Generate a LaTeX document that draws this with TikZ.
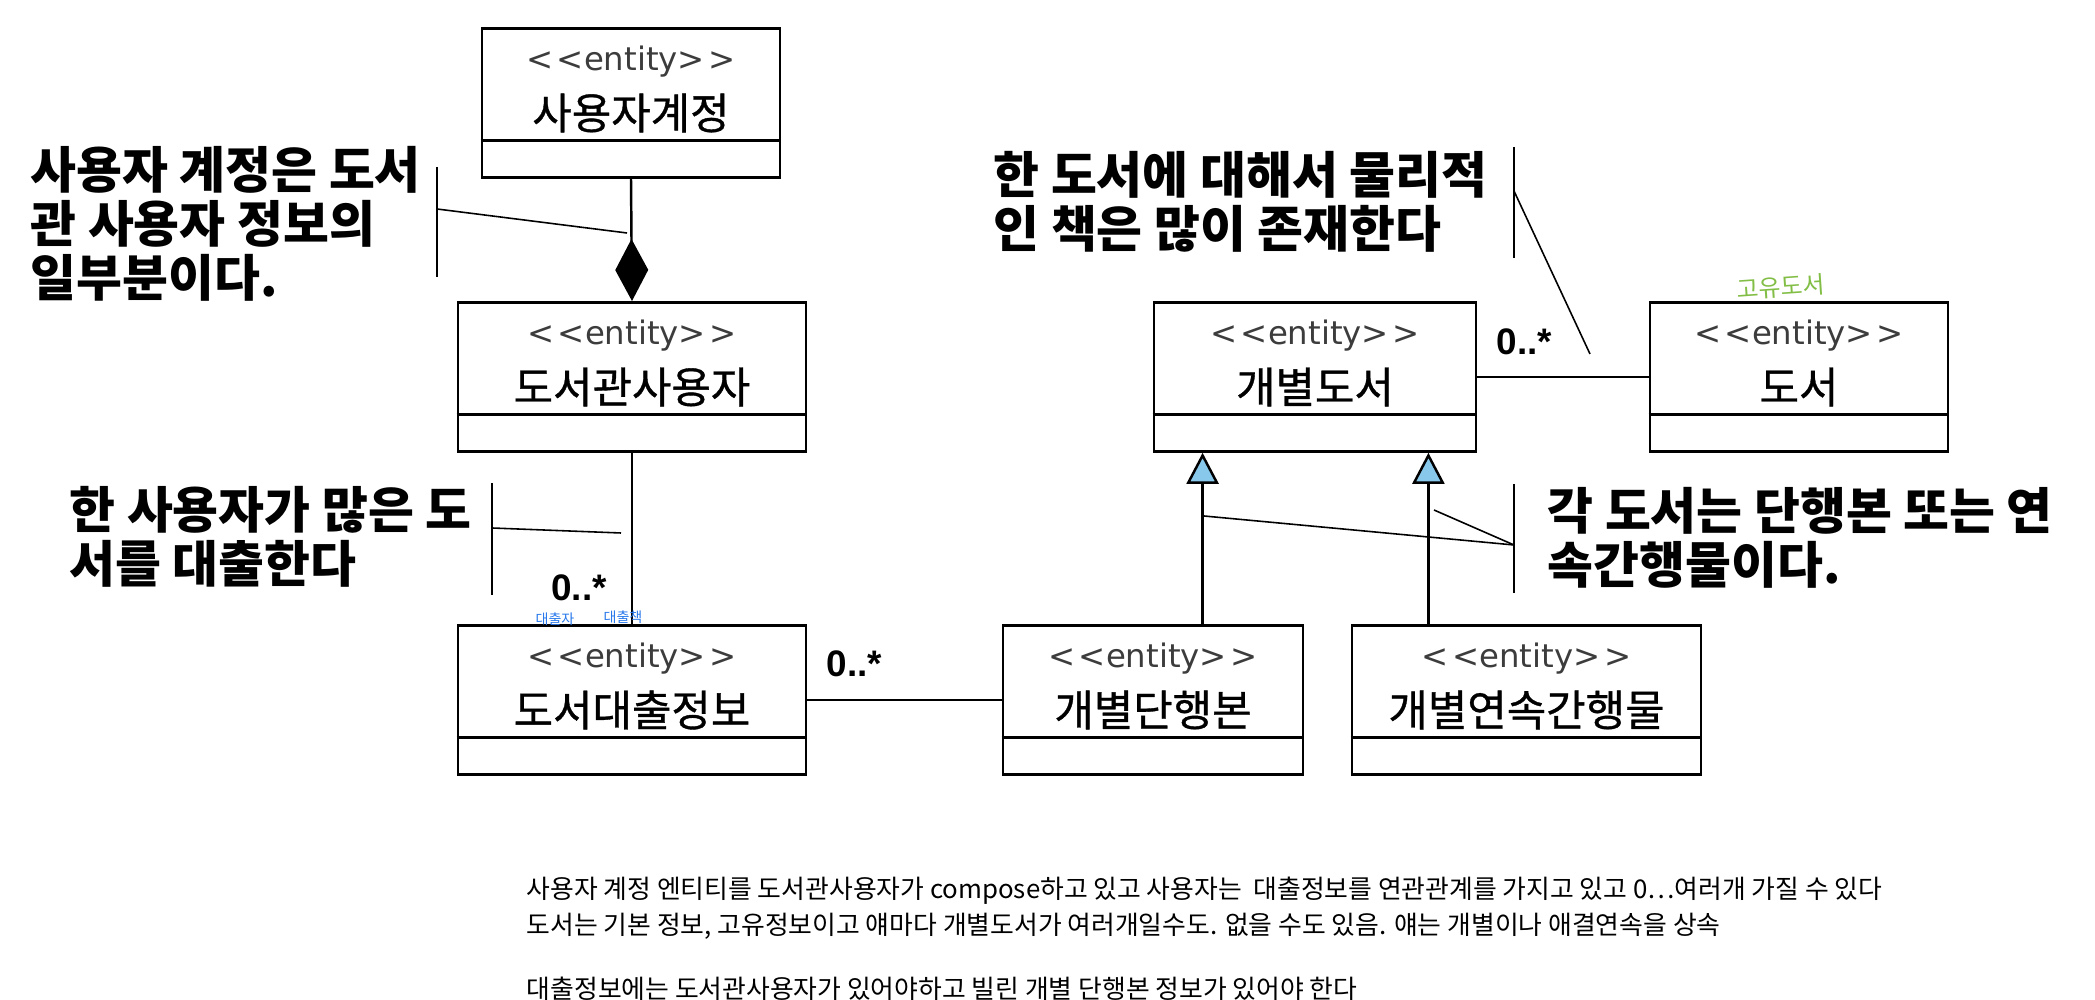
\documentclass[tikz,border=0pt]{standalone}
\usepackage{fontspec}
\usepackage{tikz}
\usetikzlibrary{arrows.meta, positioning, calc}
\newfontfamily\krfont{Noto Sans CJK KR}
\newfontfamily\krnom{Noto Sans CJK KR}[FakeBold=0.8]
\newfontfamily\stfont{DejaVu Sans}
\newfontfamily\mulfont{Liberation Sans}
\definecolor{ciel}{RGB}{135,200,235}
\definecolor{vert}{RGB}{130,190,70}
\definecolor{bleu}{RGB}{40,120,235}
\definecolor{gris}{RGB}{60,60,60}

\begin{document}
\begin{tikzpicture}[
  boite/.style={draw=black, line width=0.8pt, minimum height=1.49cm, inner sep=0pt, anchor=north},
  stereo/.style={font=\stfont\fontsize{9.2}{11}\selectfont, text=gris, inner sep=0pt},
  nom/.style={font=\krnom\fontsize{12.2}{14}\selectfont, inner sep=0pt},
  note/.style={font=\krfont\bfseries\fontsize{14.2}{15.4}\selectfont, align=left, inner sep=0pt, anchor=west},
  mult/.style={font=\mulfont\bfseries\fontsize{10.5}{12}\selectfont, inner sep=0pt},
  memo/.style={font=\krfont\fontsize{7.35}{8}\selectfont, inner sep=0pt, anchor=west},
  lien/.style={line width=0.7pt},
  trait/.style={line width=0.45pt}]
\useasboundingbox (0,0) rectangle (20.95,-10);

% Entites
\node[boite, minimum width=2.98cm] (compte) at (6.31,-0.27) {};
\node[boite, minimum width=3.48cm] (lecteur) at (6.32,-3.01) {};
\node[boite, minimum width=3.48cm] (pret) at (6.32,-6.24) {};
\node[boite, minimum width=3.22cm] (exemplaire) at (13.15,-3.01) {};
\node[boite, minimum width=2.98cm] (livre) at (17.99,-3.01) {};
\node[boite, minimum width=3.00cm] (monographie) at (11.53,-6.24) {};
\node[boite, minimum width=3.49cm] (serie) at (15.265,-6.24) {};

\foreach \e/\t in {compte/사용자계정, lecteur/도서관사용자, pret/도서대출정보,
    exemplaire/개별도서, livre/도서, monographie/개별단행본, serie/개별연속간행물}{
  \draw[line width=0.8pt] ([yshift=0.38cm]\e.south west) -- ([yshift=0.38cm]\e.south east);
  \node[stereo] at ([yshift=-0.35cm]\e.north) {<\kern1pt<entity>\kern1pt>};
  \node[nom] at ([yshift=-0.86cm]\e.north) {\t};
}

% Liens
\draw[lien, -{Diamond[length=0.62cm, width=0.33cm, fill=black]}] (compte.south) -- (lecteur.north);
\draw[lien] (lecteur.south) -- (pret.north);
\draw[lien] (pret.east) -- (monographie.west);
\draw[lien] (exemplaire.east) -- (livre.west);

% Heritage
\coordinate (g1) at ([xshift=0.50cm]exemplaire.south west);
\coordinate (g2) at ([xshift=-0.49cm]exemplaire.south east);
\draw[lien, -{Triangle[length=0.31cm, width=0.32cm, fill=ciel]}] (g1 |- monographie.north) -- (g1);
\draw[lien, -{Triangle[length=0.31cm, width=0.32cm, fill=ciel]}] (g2 |- serie.north) -- (g2);

% Multiplicites
\node[mult] (m1) at ([xshift=-0.53cm, yshift=0.36cm]pret.north) {0..*};
\node[mult] (m2) at ([xshift=0.47cm, yshift=0.36cm]pret.east) {0..*};
\node[mult] (m3) at ([xshift=0.47cm, yshift=0.35cm]exemplaire.east) {0..*};

% Notes
\node[note] (n1) at (0.30,-2.235) {사용자 계정은 도서\\관 사용자 정보의\\일부분이다.};
\draw[trait] (4.37,-1.67) -- (4.37,-2.77);
\coordinate (b1) at (4.37,-2.09);
\coordinate (c1) at (6.27,-2.33);
\draw[trait] (b1) -- (c1);

\node[note] (n2) at (0.69,-5.37) {한 사용자가 많은 도\\서를 대출한다};
\draw[trait] (4.92,-4.83) -- (4.92,-5.95);
\coordinate (b2) at (4.92,-5.28);
\coordinate (c2) at (6.21,-5.33);
\draw[trait] (b2) -- (c2);

\node[note] (n3) at (9.93,-2.02) {한 도서에 대해서 물리적\\인 책은 많이 존재한다};
\draw[trait] (15.14,-1.47) -- (15.14,-2.58);
\coordinate (b3) at (15.14,-1.91);
\coordinate (c3) at (15.90,-3.54);
\draw[trait] (b3) -- (c3);

\node[note] (n4) at (15.47,-5.38) {각 도서는 단행본 또는 연\\속간행물이다.};
\draw[trait] (15.14,-4.84) -- (15.14,-5.93);
\coordinate (b4) at (15.14,-5.45);
\coordinate (c4) at (12.04,-5.16);
\coordinate (c5) at (14.34,-5.10);
\draw[trait] (b4) -- (c4);
\draw[trait] (b4) -- (c5);

% Annotations a la main
\node[font=\krfont\fontsize{6.8}{7}\selectfont, text=vert, inner sep=0pt, rotate=4] (h1) at (17.81,-2.87) {고유도서};
\node[font=\krfont\fontsize{4}{5}\selectfont, text=bleu, inner sep=0pt] (h2) at (5.55,-6.19) {대출자};
\node[font=\krfont\fontsize{4}{5}\selectfont, text=bleu, inner sep=0pt] (h3) at (6.23,-6.17) {대출책};

% Memo
\node[memo] (t1) at (5.26,-8.91) {사용자 계정 엔티티를 도서관사용자가 compose하고 있고 사용자는\ \ 대출정보를 연관관계를 가지고 있고 0…여러개 가질 수 있다};
\node[memo] (t2) at (5.26,-9.26) {도서는 기본 정보, 고유정보이고 얘마다 개별도서가 여러개일수도. 없을 수도 있음. 얘는 개별이나 애결연속을 상속};
\node[memo] (t3) at (5.26,-9.89) {대출정보에는 도서관사용자가 있어야하고 빌린 개별 단행본 정보가 있어야 한다};
\end{tikzpicture}
\end{document}
